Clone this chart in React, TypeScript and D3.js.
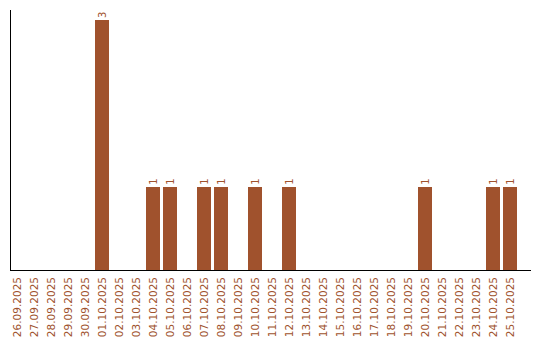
import React from "react";
import * as d3 from "d3";

const categories: string[] = [
  "26.09.2025", "27.09.2025", "28.09.2025", "29.09.2025", "30.09.2025",
  "01.10.2025", "02.10.2025", "03.10.2025", "04.10.2025", "05.10.2025",
  "06.10.2025", "07.10.2025", "08.10.2025", "09.10.2025", "10.10.2025",
  "11.10.2025", "12.10.2025", "13.10.2025", "14.10.2025", "15.10.2025",
  "16.10.2025", "17.10.2025", "18.10.2025", "19.10.2025", "20.10.2025",
  "21.10.2025", "22.10.2025", "23.10.2025", "24.10.2025", "25.10.2025",
];
const values: number[] = [
  0, 0, 0, 0, 0,
  3, 0, 0, 1, 1,
  0, 1, 1, 0, 1,
  0, 1, 0, 0, 0,
  0, 0, 0, 0, 1,
  0, 0, 0, 1, 1,
];

const W = 540;
const H = 340;
const COLOR = "#A0522D";
const FONT = "'DejaVu Sans', Verdana, sans-serif";

export default function App() {
  const x = d3
    .scaleBand<string>()
    .domain(categories)
    .range([10, 520])
    .paddingInner(3 / 17)
    .paddingOuter(1.5 / 17)
    .align(0);
  const y = d3.scaleLinear().domain([0, 3]).range([270, 20]);
  const data = categories.map((c, i) => ({ c, v: values[i] }));

  return (
    <svg
      width={W}
      height={H}
      style={{ position: "absolute", left: 0, top: 0 }}
    >
      <rect x={0} y={0} width={W} height={H} fill="#fff" />
      {data
        .filter((d) => d.v > 0)
        .map((d) => (
          <rect
            key={d.c}
            x={x(d.c)!}
            y={y(d.v)}
            width={x.bandwidth()}
            height={y(0) - y(d.v)}
            fill={COLOR}
            shapeRendering="crispEdges"
          />
        ))}
      {data
        .filter((d) => d.v > 0)
        .map((d) => {
          const cx = x(d.c)! + x.bandwidth() / 2;
          const cy = y(d.v) - 2;
          return (
            <text
              key={"v" + d.c}
              transform={`translate(${cx + 3.5},${cy}) rotate(-90)`}
              textAnchor="start"
              fontFamily={FONT}
              fontSize={10}
              fill={COLOR}
            >
              {d.v}
            </text>
          );
        })}
      <line x1={10.5} x2={10.5} y1={10} y2={270} stroke="#000" strokeWidth={1} shapeRendering="crispEdges" />
      <line x1={10} x2={531} y1={270.5} y2={270.5} stroke="#000" strokeWidth={1} shapeRendering="crispEdges" />
      {categories.map((c) => {
        const cx = x(c)! + x.bandwidth() / 2;
        return (
          <text
            key={"t" + c}
            transform={`translate(${cx + 3.5},${277}) rotate(-90)`}
            textAnchor="end"
            fontFamily={FONT}
            fontSize={10.5}
            fill={COLOR}
          >
            {c}
          </text>
        );
      })}
    </svg>
  );
}
